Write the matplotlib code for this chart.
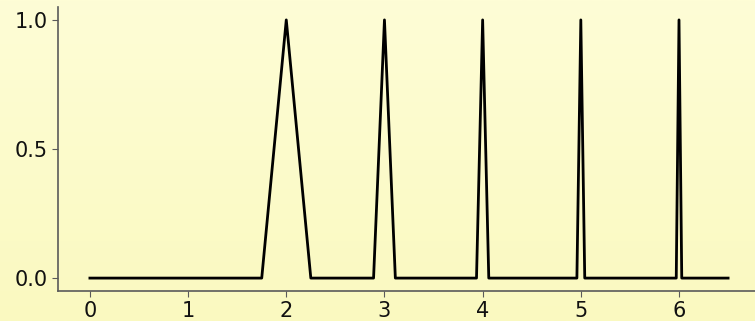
import matplotlib
matplotlib.use("Agg")
import matplotlib.pyplot as plt
import numpy as np

# polyline vertices: narrowing spikes at 2..6
x = [0, 1.75, 2, 2.25, 2.889, 3, 3.111, 3.9375, 4, 4.0625,
     4.96, 5, 5.04, 5.972, 6, 6.028, 6.5]
y = [0, 0, 1, 0, 0, 1, 0, 0, 1, 0, 0, 1, 0, 0, 1, 0, 0]
yticks = [0.0, 0.5, 1.0]
xticks = [0, 1, 2, 3, 4, 5, 6]

fig = plt.figure(figsize=(7.55, 3.21), dpi=100)

# soft yellow gradient behind everything
bg = fig.add_axes([0, 0, 1, 1], zorder=-10)
grad = np.linspace(0, 1, 256).reshape(-1, 1)
top = np.array([254, 253, 214]) / 255
bot = np.array([250, 249, 192]) / 255
img = top + (bot - top) * grad[:, :, None]
bg.imshow(img, aspect="auto", extent=[0, 1, 0, 1])
bg.axis("off")

ax = fig.add_axes([58 / 755, 30 / 321, 702 / 755, 284 / 321])
ax.patch.set_alpha(0)
ax.plot(x, y, color="black", lw=2.0)

ax.spines["top"].set_visible(False)
ax.spines["right"].set_visible(False)
for s in ["left", "bottom"]:
    ax.spines[s].set_color("#5a5a5a")
    ax.spines[s].set_linewidth(1.2)
ax.set_xticks(xticks)
ax.set_yticks(yticks)
ax.set_yticklabels(["0.0", "0.5", "1.0"])
ax.tick_params(colors="#5a5a5a", labelcolor="#111111", labelsize=15, length=4)

plt.savefig("out.png", dpi=100)
